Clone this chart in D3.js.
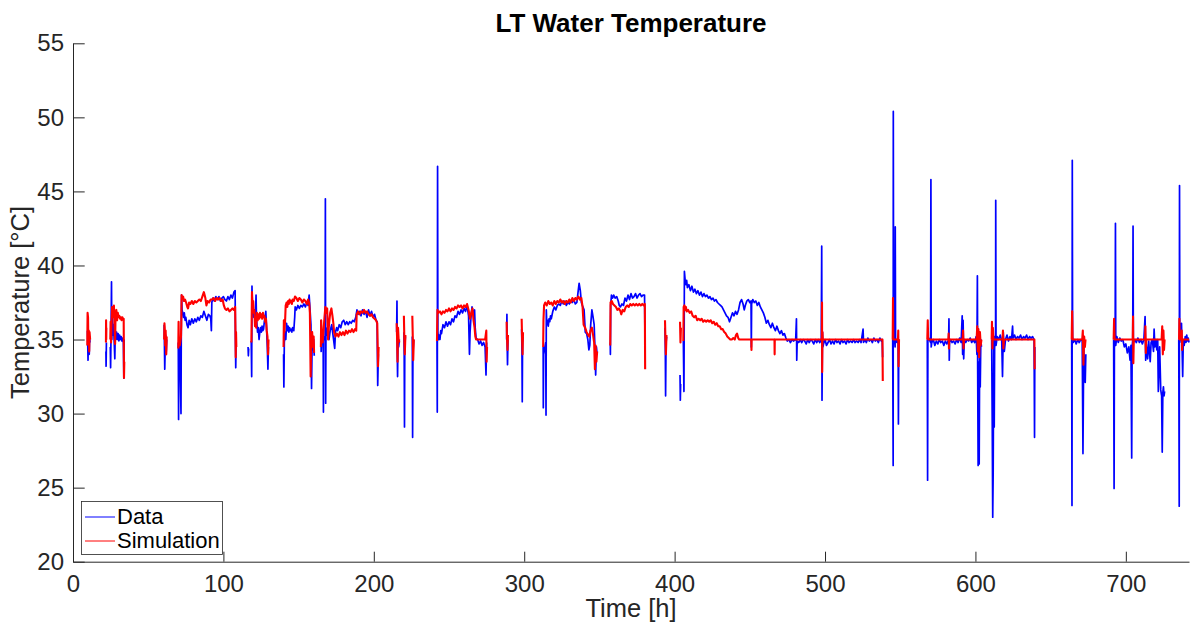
<!DOCTYPE html>
<html><head><meta charset="utf-8">
<script src="https://cdn.jsdelivr.net/npm/d3@7"></script>
<style>
html,body{margin:0;padding:0;background:#fff;}
text{font-family:"Liberation Sans",Arial,Helvetica,sans-serif;}
</style></head>
<body><svg id="c" width="1190" height="628"></svg>
<script>
const chartTitle = "LT Water Temperature";
const xLabel = "Time [h]";
const yLabel = "Temperature [°C]";
const xTicks = [0,100,200,300,400,500,600,700];
const yTicks = [20,25,30,35,40,45,50,55];
const seriesNames = ["Data","Simulation"];

// Measured data (blue), one array of [time h, temperature °C] per recorded interval
const dataSegments = [
[[9.6,35.6],[9.8,34.7],[10.0,33.6],[10.2,35.2],[10.5,34.9],[10.8,34.0],[11.0,35.2],[11.3,34.8]],
[[21.9,34.2],[22.0,33.2],[22.1,33.9],[22.2,34.8]],
[[24.8,34.5],[25.0,33.1],[25.3,35.5],[25.6,38.9],[25.8,35.0],[26.2,36.6],[26.6,35.3],[27.0,36.0],[27.4,34.8],[27.8,33.7],[28.1,35.6],[28.5,35.0],[29.0,35.5],[29.5,35.0],[30.0,35.4],[30.5,34.9],[31.0,35.3],[31.5,35.0],[32.0,35.2],[32.5,34.9],[33.0,35.1],[33.5,34.8],[33.8,32.4],[34.0,35.0]],
[[60.6,36.0],[60.8,34.6],[61.0,33.0],[61.3,34.5],[61.6,35.3],[62.0,34.2],[62.3,35.0]],
[[70.0,34.8],[70.2,29.6],[70.4,34.9],[71.0,35.0],[71.8,30.0],[72.0,35.5],[72.2,38.0],[72.5,37.0],[73.0,36.8],[73.5,36.5],[74.0,36.8],[74.5,36.3],[75.0,36.5],[75.8,36.0],[76.5,35.8],[77.2,36.3],[78.0,36.0],[79.0,36.4],[80.0,36.1],[81.0,36.4],[82.0,36.2],[83.0,36.5],[84.0,36.3],[85.0,36.6],[86.0,36.5],[87.0,36.9],[88.0,36.6],[89.0,36.3],[90.0,36.7],[91.0,36.6],[91.6,36.4],[92.0,35.6],[92.3,37.5],[93.0,37.8],[94.0,37.6],[95.0,37.9],[96.0,37.7],[97.0,37.9],[98.0,37.6],[99.0,37.8],[100.0,37.9],[101.0,37.7],[102.0,37.6],[103.0,37.9],[104.0,37.7],[105.0,38.0],[106.0,37.8],[107.0,38.2],[107.8,38.3],[108.0,35.0],[108.2,33.1],[108.4,34.5]],
[[116.4,34.5],[116.6,33.9],[116.8,34.4]],
[[118.5,34.9],[118.8,32.5],[119.0,38.6],[119.3,36.8],[119.7,37.2],[120.2,36.5],[120.7,37.0],[121.2,36.3],[121.7,38.0],[122.0,36.4],[122.7,35.5],[123.2,35.8],[123.7,35.0],[124.2,35.5],[124.7,35.8],[125.2,35.5],[125.7,35.9],[126.2,35.6],[126.7,35.7],[127.2,36.2],[127.7,36.5],[128.2,36.9],[128.6,36.0],[129.2,34.5],[129.6,33.0],[129.9,34.5]],
[[140.0,34.0],[140.2,31.8],[140.5,34.8],[141.0,35.5],[141.5,35.0],[142.0,36.1],[142.5,35.6],[143.0,35.9],[143.5,35.5],[144.0,35.8],[144.5,35.6],[145.0,35.7],[145.5,35.5],[146.0,35.8],[146.8,35.6],[147.4,36.5],[147.7,37.2],[148.5,37.0],[149.5,37.3],[150.5,37.1],[151.5,37.3],[152.5,37.2],[153.5,37.4],[154.5,37.2],[155.5,37.5],[156.3,37.3],[157.0,38.0],[157.5,37.2],[158.2,36.0],[158.6,31.7],[159.0,35.0],[159.5,34.3],[160.0,35.0],[160.4,33.9]],
[[164.8,36.3],[165.0,34.2],[165.3,35.0],[166.3,35.5],[166.5,30.1],[166.7,35.2],[167.6,35.0],[167.8,44.5],[168.0,30.7],[168.2,35.8],[168.8,35.3],[169.5,35.8],[170.2,35.0],[171.0,35.6],[172.0,36.0],[173.0,35.2],[174.0,34.4],[174.5,35.5],[175.3,35.8],[176.0,35.6],[177.0,36.0],[178.0,35.8],[179.0,36.2],[180.0,36.3],[181.0,36.0],[182.0,36.2],[183.0,36.0],[184.0,36.2],[185.0,36.1],[186.0,36.3],[187.0,36.2],[188.0,36.5],[188.8,37.0],[189.5,36.7],[190.5,36.9],[191.5,36.6],[192.5,37.0],[193.5,36.7],[194.5,36.9],[195.5,36.5],[196.5,37.0],[197.5,36.6],[198.5,36.9],[199.5,36.5],[200.5,36.7],[201.5,36.3],[202.2,36.2],[202.6,31.9],[203.0,34.0]],
[[215.2,35.5],[215.4,37.6],[215.6,34.0],[215.8,32.5],[216.1,35.0],[216.5,34.5],[217.0,35.0]],
[[220.0,35.5],[220.2,34.0],[220.4,29.1],[220.6,34.5],[221.0,35.2]],
[[225.6,35.2],[225.8,28.4],[226.0,34.0],[226.5,35.0]],
[[242.0,35.0],[242.2,30.1],[242.4,46.7],[242.6,35.5],[243.0,35.0],[243.5,35.3],[244.0,35.0],[244.5,35.6],[245.0,35.4],[246.0,36.0],[247.0,35.8],[248.0,36.2],[249.0,35.9],[250.0,36.2],[251.0,36.0],[252.0,36.4],[253.0,36.2],[254.0,36.6],[255.0,36.5],[256.0,36.9],[257.0,36.7],[258.0,37.0],[259.0,36.8],[260.0,37.1],[261.0,36.9],[262.0,37.3],[263.0,36.6],[263.6,34.0],[264.0,35.5],[264.6,36.5],[265.3,37.2],[266.0,36.8],[267.0,37.0],[267.4,35.8],[268.0,35.1],[269.0,35.0],[270.0,34.7],[271.0,34.9],[272.0,34.6],[273.0,34.8],[274.0,34.5],[274.6,32.6],[275.0,34.8]],
[[288.3,35.0],[288.5,36.7],[288.7,34.5],[288.9,33.3],[289.2,35.0]],
[[298.3,35.7],[298.5,34.2],[298.7,30.8],[298.9,34.8],[299.2,35.2]],
[[312.6,34.5],[312.7,30.4],[312.9,34.0],[314.3,34.8],[314.5,29.9],[314.7,37.0],[315.0,36.0],[315.5,36.3],[316.0,35.9],[316.5,36.4],[317.0,36.2],[317.5,36.6],[318.0,36.4],[319.0,36.9],[320.0,37.2],[321.0,37.0],[322.0,37.3],[323.0,37.4],[324.0,37.3],[325.0,37.6],[326.0,37.4],[327.0,37.6],[328.0,37.3],[329.0,37.5],[330.0,37.4],[331.0,37.6],[332.0,37.5],[333.0,37.7],[334.0,37.4],[335.0,37.5],[335.8,38.2],[336.5,38.8],[337.3,38.3],[338.0,37.5],[339.0,37.2],[339.8,37.0],[340.6,35.5],[341.5,35.4],[342.3,35.0],[343.0,34.3],[343.6,34.6],[344.2,36.0],[345.0,37.0],[345.8,36.5],[346.5,36.0],[347.0,34.5],[347.5,32.6],[348.0,34.5],[348.5,34.0]],
[[357.2,34.8],[357.3,34.0],[357.5,37.3],[358.0,38.0],[358.8,37.8],[359.5,38.0],[360.5,37.8],[361.5,37.9],[362.5,37.6],[363.2,37.3],[364.0,37.2],[365.0,37.4],[366.0,37.3],[367.0,37.8],[368.0,37.6],[369.0,38.0],[370.0,37.7],[371.0,38.1],[372.0,37.8],[373.0,37.9],[374.0,38.1],[375.0,37.8],[376.0,38.0],[377.0,38.1],[378.0,37.9],[379.0,38.0],[380.0,38.0],[380.3,35.0]],
[[393.6,35.8],[393.8,34.5],[394.0,31.2],[394.3,34.8],[394.7,35.2]],
[[403.6,32.6],[403.8,30.9],[404.0,32.0]],
[[405.8,34.9],[406.2,31.5],[406.5,39.6],[407.0,39.0],[407.5,38.7],[408.0,39.0],[408.5,38.5],[409.5,38.7],[410.5,38.3],[411.5,38.6],[412.5,38.2],[413.5,38.4],[414.5,38.1],[415.5,38.3],[416.5,38.0],[417.5,38.2],[418.5,37.9],[419.5,38.1],[420.5,37.9],[421.5,38.0],[422.5,37.8],[423.5,37.9],[424.5,37.7],[425.5,37.8],[426.5,37.6],[427.5,37.7],[428.5,37.5],[429.5,37.4],[430.5,37.3],[431.5,37.2],[432.5,37.0],[433.5,36.8],[434.5,36.6],[435.5,36.5],[436.5,36.2],[437.5,36.5],[438.5,36.8],[439.5,36.6],[440.5,36.9],[441.5,36.7],[442.5,37.0],[443.5,37.5],[444.5,37.7],[445.5,37.4],[446.3,37.0],[447.0,37.3],[448.0,37.6],[449.0,37.7],[450.0,37.5],[450.8,37.6],[451.0,34.5],[451.2,37.4],[452.0,37.7],[453.0,37.5],[454.0,37.6],[455.0,37.3],[456.0,37.5],[457.0,37.2],[458.0,37.0],[459.0,36.8],[460.0,36.5],[461.0,36.1],[462.0,36.3],[463.0,36.0],[464.0,35.8],[465.0,36.1],[466.0,35.8],[467.0,35.6],[468.0,35.9],[469.0,35.6],[470.0,35.4],[471.0,35.6],[472.0,35.3],[473.0,35.4],[474.0,35.1],[475.0,34.9],[476.0,35.0],[477.0,34.8],[478.0,35.0],[479.0,34.9],[480.5,35.0],[481.0,36.4],[481.2,33.6],[481.5,34.9],[482.5,34.8],[483.5,35.0],[484.5,34.8],[485.5,35.0],[486.5,34.9],[487.5,34.7],[488.5,35.0],[489.5,34.8],[490.5,35.0],[491.5,34.9],[492.5,34.7],[493.5,35.0],[494.5,34.8],[495.5,35.0],[496.5,34.8],[497.5,35.0],[497.8,41.3],[498.0,30.9],[498.3,35.5],[498.6,34.5],[499.0,34.7],[500.0,35.0],[501.0,34.6],[502.0,34.8],[503.0,35.0],[504.0,34.7],[505.0,34.9],[506.0,34.7],[507.0,35.0],[508.0,34.8],[509.0,34.9],[510.0,34.7],[511.0,35.0],[512.0,34.8],[513.0,34.9],[514.0,34.7],[515.0,35.0],[516.0,34.8],[517.0,34.9],[518.0,34.8],[519.0,35.0],[520.0,34.8],[521.0,34.9],[522.0,34.8],[523.0,35.0],[524.0,34.8],[525.3,35.7],[525.6,34.8],[526.5,35.0],[527.5,34.8],[528.5,35.1],[529.5,34.9],[530.5,35.0],[531.5,34.8],[532.5,35.1],[533.5,34.9],[534.5,35.0],[535.5,34.8],[536.5,35.1],[537.5,34.9],[538.0,35.0],[538.3,33.8]],
[[545.0,35.0],[545.3,26.5],[545.4,50.4],[545.6,35.0],[546.2,35.2],[546.6,34.5],[546.7,42.6],[546.9,34.8],[547.5,35.0],[548.0,34.8],[548.6,35.0],[548.8,29.3],[549.0,34.0],[549.3,35.0]],
[[568.0,35.0],[568.2,25.5],[568.4,35.2],[570.2,34.8],[570.4,45.8],[570.6,34.5],[571.0,34.8],[572.0,35.0],[573.0,34.6],[574.0,34.9],[575.0,34.7],[576.0,35.0],[577.0,34.8],[578.0,34.9],[579.0,34.6],[580.0,34.9],[581.0,34.7],[582.2,35.0],[582.4,36.4],[582.6,33.6],[582.8,34.8],[583.5,35.0],[584.5,34.8],[585.5,34.9],[586.5,34.7],[587.5,35.0],[588.5,34.8],[589.5,35.1],[590.5,34.8],[591.2,36.6],[591.5,34.0],[591.8,36.3],[592.2,33.7],[592.6,35.0],[593.5,34.8],[594.5,35.0],[595.5,34.9],[596.5,35.1],[597.5,34.8],[598.5,35.0],[599.5,34.8],[600.5,35.2],[601.0,34.0],[601.3,39.3],[601.5,33.0],[601.8,26.5],[602.0,33.5],[602.3,31.8],[602.5,26.6],[602.8,34.0],[603.2,31.8],[603.6,35.0],[604.0,34.5]],
[[610.8,35.0],[611.2,29.1],[611.5,23.0],[611.8,26.0],[612.2,35.0],[612.5,29.1],[612.8,35.2],[613.4,35.0],[613.5,44.4],[613.7,34.6],[614.5,35.2],[615.5,35.0],[616.5,35.3],[617.5,34.9],[618.0,32.5],[618.5,35.5],[619.2,34.2],[620.0,35.0],[621.0,35.3],[622.0,34.9],[623.0,35.2],[624.0,35.0],[624.7,35.9],[625.0,35.1],[626.0,35.3],[627.0,35.0],[628.0,35.2],[629.0,35.1],[630.0,35.3],[631.0,35.0],[632.0,35.2],[633.0,35.1],[634.0,35.3],[635.0,35.0],[636.0,35.2],[637.0,35.1],[638.0,35.2],[639.0,35.0],[639.3,28.4],[639.5,34.5]],
[[664.0,35.0],[664.2,23.8],[664.4,47.1],[664.6,35.2],[665.0,34.8],[666.0,35.0],[667.0,34.7],[668.0,35.0],[669.0,34.8],[670.0,35.0],[671.0,34.9],[671.5,27.3],[672.0,34.5],[672.5,33.0],[673.0,32.1],[673.4,34.0]],
[[691.9,35.0],[692.2,24.95],[692.4,34.5],[692.9,34.8],[693.1,42.85],[693.3,34.6],[694.0,35.2],[695.0,34.8],[696.0,35.1],[697.0,34.9],[698.0,35.0],[699.0,34.5],[700.0,34.7],[701.0,34.1],[702.0,34.5],[702.8,33.6],[703.4,34.6],[703.9,27.0],[704.2,34.5],[704.6,35.0],[704.8,42.65],[705.0,34.8],[706.0,35.0],[707.0,34.8],[708.0,35.1],[709.0,34.8],[710.0,35.0],[711.0,34.7],[712.0,35.0],[712.8,36.55],[713.2,33.6],[713.6,34.7],[714.5,33.7],[715.2,34.9],[716.2,33.5],[716.8,34.8],[717.6,35.0],[718.4,34.2],[718.8,35.7],[719.3,34.5],[720.0,35.0],[720.6,34.3],[721.2,35.0],[721.6,31.5],[722.0,33.0],[722.5,34.5],[723.2,31.6],[723.8,31.2],[724.2,27.4],[724.6,31.4],[725.0,31.8],[725.4,31.2],[725.8,31.5]],
[[735.2,35.0],[735.5,23.75],[735.7,45.4],[735.9,34.8],[736.3,35.2],[737.0,36.1],[737.4,34.5],[737.8,32.5],[738.2,35.0],[738.8,34.6],[739.5,35.2],[740.0,34.8],[740.5,35.3],[741.0,34.9],[741.5,35.1],[742.0,34.8]]
];

// Simulation (red)
const simSegments = [
[[9.5,34.6],[9.7,36.8],[10.0,36.5],[10.2,34.8],[10.5,35.6],[10.8,34.2],[11.0,35.5],[11.4,35.0]],
[[21.9,34.8],[22.0,36.3],[22.1,35.0],[22.2,35.8]],
[[24.8,35.0],[25.0,36.2],[25.3,34.8],[25.6,36.0],[26.0,37.2],[26.4,37.0],[26.8,36.5],[27.2,37.3],[27.6,36.0],[28.0,34.7],[28.3,36.8],[28.8,37.0],[29.3,36.3],[29.8,36.8],[30.3,36.5],[30.8,36.6],[31.3,36.4],[31.8,36.5],[32.3,36.3],[32.8,36.5],[33.3,36.4],[33.7,36.4],[33.9,32.4],[34.1,33.5]],
[[60.6,35.0],[60.8,36.1],[61.0,35.8],[61.3,34.6],[61.6,35.6],[62.0,34.0],[62.3,35.2]],
[[70.0,34.4],[70.2,36.2],[70.4,35.0],[71.0,34.6],[71.8,35.2],[72.0,36.0],[72.2,38.0],[72.6,37.8],[73.2,37.9],[73.8,37.6],[74.5,37.7],[75.2,37.5],[76.0,37.2],[76.5,37.1],[77.2,37.5],[78.0,37.4],[79.0,37.6],[80.0,37.4],[81.0,37.6],[82.0,37.5],[83.0,37.6],[84.0,37.7],[85.0,37.6],[86.0,37.9],[87.0,38.2],[88.0,37.8],[88.7,37.3],[89.5,37.6],[90.5,37.5],[91.5,37.7],[92.5,37.7],[93.5,37.8],[94.5,37.6],[95.5,37.8],[96.5,37.7],[97.5,37.8],[98.5,37.6],[99.5,37.7],[100.3,37.3],[101.0,37.1],[102.0,37.0],[103.0,37.1],[104.0,36.9],[105.0,37.0],[106.0,37.1],[107.0,37.0],[107.8,37.2],[108.0,35.8],[108.2,33.8],[108.4,35.5],[108.6,34.5]],
[[118.6,34.8],[118.8,36.5],[119.0,38.2],[119.4,37.3],[119.8,37.6],[120.2,36.8],[120.6,37.0],[121.0,35.9],[121.4,36.4],[121.8,35.8],[122.3,36.8],[122.8,36.3],[123.3,36.7],[123.8,36.4],[124.3,36.8],[124.8,36.5],[125.3,36.7],[125.8,36.4],[126.3,36.8],[126.8,36.5],[127.3,36.6],[127.8,36.2],[128.3,36.4],[128.8,35.6],[129.3,35.2],[129.7,34.0],[130.0,35.0]],
[[140.0,34.5],[140.2,36.3],[140.5,35.5],[141.0,36.2],[141.4,37.3],[142.0,37.5],[142.5,37.2],[143.0,37.6],[143.5,37.4],[144.0,37.7],[144.5,37.5],[145.0,37.6],[145.5,37.4],[146.0,37.7],[146.8,37.6],[147.6,37.9],[148.5,37.8],[149.5,37.6],[150.5,37.8],[151.5,37.7],[152.5,37.5],[153.5,37.7],[154.5,37.6],[155.5,37.4],[156.3,37.7],[157.0,37.5],[157.5,36.8],[158.0,32.5],[158.4,35.0],[159.0,35.5],[159.6,34.5],[160.0,35.2],[160.3,34.1]],
[[164.8,34.5],[165.0,36.3],[165.3,35.5],[166.0,34.8],[166.5,35.5],[167.2,36.5],[167.8,37.2],[168.4,36.8],[169.0,37.1],[169.6,35.0],[170.2,36.0],[171.0,36.8],[171.8,37.1],[172.5,36.6],[173.2,36.0],[173.6,35.5],[174.5,35.2],[175.5,35.4],[176.5,35.2],[177.5,35.5],[178.5,35.3],[179.5,35.5],[180.5,35.3],[181.5,35.6],[182.5,35.4],[183.5,35.6],[184.5,35.5],[185.5,35.7],[186.5,35.5],[187.5,35.7],[188.3,35.6],[188.6,36.7],[189.5,36.9],[190.5,36.7],[191.5,36.9],[192.5,36.8],[193.5,37.0],[194.5,36.8],[195.5,36.9],[196.5,36.7],[197.5,36.6],[198.5,36.7],[199.5,36.5],[200.5,36.4],[201.5,36.3],[202.3,36.1],[202.8,33.2],[203.2,34.5]],
[[215.2,36.1],[215.5,35.0],[215.8,33.5],[216.1,35.8],[216.5,35.0],[217.0,34.8]],
[[220.0,36.6],[220.3,35.0],[220.6,34.0],[221.0,35.3]],
[[225.6,36.6],[225.9,35.2],[226.2,33.6],[226.6,35.0]],
[[242.0,34.9],[242.3,37.0],[243.0,36.8],[244.0,36.9],[245.0,36.7],[246.0,36.9],[247.0,36.8],[248.0,37.0],[249.0,36.9],[250.0,37.1],[251.0,36.9],[252.0,37.1],[253.0,37.0],[254.0,37.2],[255.0,37.1],[256.0,37.3],[257.0,37.2],[258.0,37.3],[259.0,37.1],[260.0,37.3],[261.0,37.2],[262.0,37.4],[263.0,37.0],[264.0,36.4],[264.8,36.8],[265.6,37.1],[266.3,36.3],[267.0,35.8],[267.5,35.2],[268.0,35.0],[269.0,35.0],[270.0,35.0],[271.0,35.0],[272.0,35.0],[273.0,35.0],[274.0,35.0],[274.8,35.6],[275.0,33.5],[275.3,34.5]],
[[288.3,36.2],[288.6,35.0],[288.9,34.3],[289.2,35.3]],
[[298.3,36.4],[298.6,35.0],[298.9,34.0],[299.2,35.5]],
[[312.6,34.5],[312.8,36.3],[313.2,37.3],[314.0,37.5],[315.0,37.3],[316.0,37.6],[317.0,37.4],[318.0,37.5],[319.0,37.3],[320.0,37.6],[321.0,37.4],[322.0,37.6],[323.0,37.5],[324.0,37.7],[325.0,37.5],[326.0,37.6],[327.0,37.4],[328.0,37.6],[329.0,37.5],[330.0,37.7],[331.0,37.5],[332.0,37.8],[333.0,37.6],[334.0,37.8],[335.0,37.7],[336.0,37.9],[337.0,37.7],[338.0,37.8],[338.8,37.2],[339.5,36.0],[340.5,35.8],[341.5,35.5],[342.5,35.3],[343.3,35.2],[344.0,35.6],[345.0,35.8],[345.8,35.3],[346.5,34.8],[347.0,33.0],[347.5,34.6],[348.0,33.5],[348.5,34.2]],
[[357.2,34.6],[357.4,37.5],[358.2,37.6],[359.0,37.4],[360.0,37.3],[361.0,37.2],[362.0,37.0],[363.0,37.1],[364.0,36.9],[364.5,36.7],[365.5,37.0],[366.5,36.9],[367.5,37.2],[368.5,37.3],[369.5,37.2],[370.5,37.4],[371.5,37.3],[372.5,37.4],[373.5,37.3],[374.5,37.4],[375.5,37.3],[376.5,37.4],[377.5,37.3],[378.5,37.4],[379.5,37.3],[380.2,37.4],[380.4,33.0]],
[[393.6,36.3],[393.9,35.0],[394.2,34.0],[394.6,35.3]],
[[403.6,36.2],[403.9,34.8],[404.2,35.8]],
[[405.8,34.9],[406.0,37.2],[406.5,37.3],[407.0,37.0],[407.5,37.2],[408.0,36.9],[409.0,37.0],[410.0,36.8],[411.0,36.9],[412.0,36.6],[413.0,36.5],[414.0,36.6],[415.0,36.3],[416.0,36.4],[417.0,36.3],[418.0,36.4],[419.0,36.2],[420.0,36.3],[421.0,36.2],[422.0,36.3],[423.0,36.2],[424.0,36.3],[425.0,36.1],[426.0,36.2],[427.0,36.0],[428.0,36.1],[429.0,35.9],[430.0,35.9],[431.0,35.7],[432.0,35.7],[433.0,35.5],[434.0,35.4],[435.0,35.2],[436.0,35.1],[437.0,35.0],[438.0,35.0],[439.0,35.1],[440.0,35.0],[440.8,35.3],[441.5,35.4],[442.3,35.1],[443.0,35.0],[451.0,35.0],[451.1,34.3],[451.2,35.0],[466.4,35.0],[466.5,34.0],[466.6,35.0],[497.9,35.0],[498.0,37.5],[498.1,32.8],[498.3,35.5],[498.5,35.0],[538.2,35.0],[538.4,32.2]],
[[545.0,35.0],[545.2,37.8],[545.4,35.0],[548.5,35.0],[548.7,35.6],[548.9,33.2],[549.2,35.0]],
[[568.0,35.0],[568.3,36.3],[568.6,35.0],[582.0,35.0],[582.2,35.4],[582.4,34.4],[582.6,35.0],[591.5,35.0],[591.8,35.6],[592.1,34.4],[592.4,35.0],[600.8,35.0],[601.2,35.9],[601.6,34.2],[602.0,35.7],[602.5,33.8],[603.0,35.5],[603.5,34.6],[604.0,35.0]],
[[610.8,35.0],[611.0,36.2],[611.3,34.4],[611.6,35.8],[612.0,35.0],[618.0,35.0],[618.3,35.6],[618.6,34.4],[619.0,35.0],[639.2,35.0],[639.4,33.0]],
[[664.0,35.0],[664.3,36.9],[664.6,35.0],[671.0,35.0],[671.4,35.6],[671.8,33.3],[672.3,35.2],[672.8,34.5],[673.2,35.0]],
[[691.9,35.0],[692.2,36.4],[692.5,35.0],[704.6,35.0],[704.8,36.55],[705.0,33.4],[705.3,35.0],[712.8,35.0],[713.0,35.9],[713.3,34.1],[713.6,35.0],[723.8,35.0],[724.2,35.9],[724.6,34.0],[725.0,35.6],[725.4,34.3],[725.8,35.0]],
[[735.4,35.0],[735.6,36.4],[735.8,35.0],[737.0,35.0],[737.2,35.6],[737.4,34.3],[737.7,35.0],[742.0,35.0]]
];

const svg = d3.select("#c");
const L = 73, R = 1189, T = 43.3, B = 561.7;
const x = d3.scaleLinear().domain([0, 742]).range([L, R]);
const y = d3.scaleLinear().domain([20, 55]).range([B, T]);
const axisColor = "#262626";

const line = d3.line().x(d => x(d[0])).y(d => y(d[1]));
const plot = svg.append("g");
plot.selectAll("path.d").data(dataSegments).join("path")
  .attr("class","d").attr("d", line)
  .attr("fill","none").attr("stroke","#0000ff").attr("stroke-width",1.7).attr("stroke-linejoin","round");
plot.selectAll("path.s").data(simSegments).join("path")
  .attr("class","s").attr("d", line)
  .attr("fill","none").attr("stroke","#ff0000").attr("stroke-width",2.1).attr("stroke-linejoin","round");

// axes
const gx = svg.append("g").attr("transform", `translate(0,${B})`)
  .call(d3.axisBottom(x).tickValues(xTicks).tickSizeInner(-10).tickSizeOuter(0).tickPadding(13));
const gy = svg.append("g").attr("transform", `translate(${L},0)`)
  .call(d3.axisLeft(y).tickValues(yTicks).tickSizeInner(-11.7).tickSizeOuter(0).tickPadding(9));
[gx, gy].forEach(g => {
  g.select(".domain").attr("stroke", axisColor).attr("stroke-width", 1);
  g.selectAll(".tick line").attr("stroke", axisColor).attr("stroke-width", 1);
  g.selectAll(".tick text").attr("fill", axisColor).attr("font-size", 24)
    .attr("font-family", '"Liberation Sans",Arial,sans-serif');
});

// titles
svg.append("text").attr("x", (L + R) / 2).attr("y", 32).attr("text-anchor","middle")
  .attr("font-size", 26).attr("font-weight","bold").attr("fill","#000").text(chartTitle);
svg.append("text").attr("x", (L + R) / 2).attr("y", 617).attr("text-anchor","middle")
  .attr("font-size", 25.5).attr("fill", axisColor).text(xLabel);
svg.append("text").attr("transform", `translate(29,${(T + B) / 2}) rotate(-90)`)
  .attr("text-anchor","middle").attr("font-size", 25.5).attr("fill", axisColor).text(yLabel);

// legend
const lg = svg.append("g");
lg.append("rect").attr("x", 81.5).attr("y", 501.5).attr("width", 141).attr("height", 53)
  .attr("fill","#fff").attr("stroke","#262626").attr("stroke-width", 0.8);
const colors = ["#0000ff","#ff0000"];
seriesNames.forEach((n, i) => {
  const yy = 517 + i * 24;
  lg.append("line").attr("x1", 85).attr("x2", 115).attr("y1", yy).attr("y2", yy)
    .attr("stroke", colors[i]).attr("stroke-width", 1);
  lg.append("text").attr("x", 117).attr("y", yy + 7).attr("font-size", 22)
    .attr("fill","#000").text(n);
});
</script></body></html>
